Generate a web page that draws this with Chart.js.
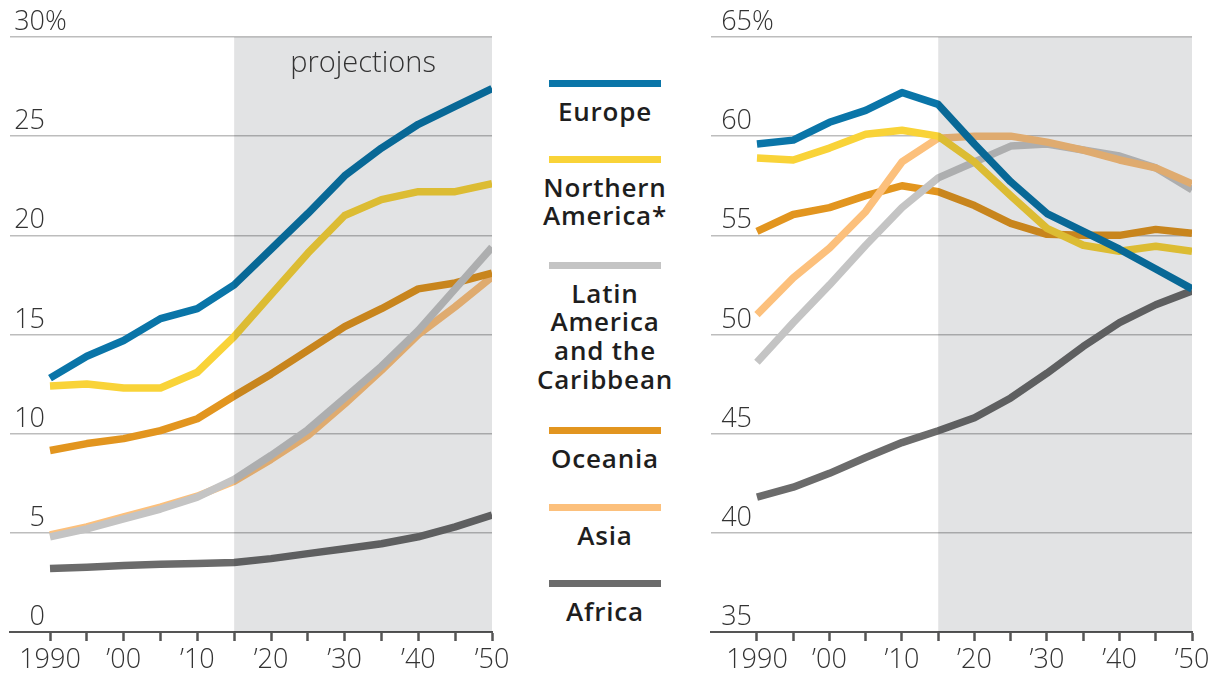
<!DOCTYPE html>
<html>
<head>
<meta charset="utf-8">
<script src="https://cdn.jsdelivr.net/npm/chart.js@4.4.1/dist/chart.umd.min.js"></script>
<style>
    html, body { margin: 0; padding: 0; background: #fff; overflow: hidden; }
    #wrap { position: relative; width: 1217px; height: 675px; }
    #leftBox { position: absolute; left: 0; top: 0; }
    #rightBox { position: absolute; left: 690px; top: 0; }
    #legend {
        position: absolute; left: 530px; top: 0; width: 150px; z-index: 2;
        text-align: center; color: #1e1e1e;
        font: 600 26px 'Open Sans', sans-serif; letter-spacing: 0.8px; line-height: 28.7px;
    }
    .item { position: absolute; left: 0; width: 150px; }
    .swatch { width: 112px; height: 7px; margin: 0 auto 10px; }
</style>
</head>
<body>
<div id="wrap">
    <div id="leftBox"><canvas id="leftChart" width="530" height="675"></canvas></div>
    <div id="rightBox"><canvas id="rightChart" width="527" height="675"></canvas></div>
    <div id="legend"></div>
</div>
<script>
// Données
const years = [1990, 1995, 2000, 2005, 2010, 2015, 2020, 2025, 2030, 2035, 2040, 2045, 2050];
const yearLabels = ['1990', '', '\u201900', '', '\u201910', '', '\u201920', '', '\u201930', '', '\u201940', '', '\u201950'];
const projectionStart = 2015;

const regions = ['Europe', 'Northern America*', 'Latin America and the Caribbean', 'Oceania', 'Asia', 'Africa'];
const legendLines = [['Europe'], ['Northern', 'America*'], ['Latin', 'America', 'and the', 'Caribbean'], ['Oceania'], ['Asia'], ['Africa']];
const regionColors = ['#0a75a8', '#f9d338', '#c4c4c4', '#e2951f', '#fcc07c', '#6b6b6b'];

// Graphique de gauche
const leftTicks = [0, 5, 10, 15, 20, 25, 30];
const europeLeft  = [12.8, 13.9, 14.7, 15.8, 16.3, 17.5, 19.3, 21.1, 23.0, 24.4, 25.6, 26.5, 27.4];
const northAmLeft = [12.4, 12.5, 12.3, 12.3, 13.1, 14.9, 17.0, 19.1, 21.0, 21.8, 22.2, 22.2, 22.6];
const latinLeft   = [4.8, 5.2, 5.7, 6.2, 6.8, 7.7, 8.9, 10.2, 11.8, 13.4, 15.2, 17.3, 19.4];
const oceaniaLeft = [9.15, 9.5, 9.75, 10.15, 10.75, 11.9, 13.0, 14.2, 15.4, 16.3, 17.3, 17.6, 18.1];
const asiaLeft    = [4.9, 5.3, 5.8, 6.3, 6.85, 7.6, 8.7, 9.9, 11.5, 13.2, 15.0, 16.4, 17.9];
const africaLeft  = [3.2, 3.27, 3.35, 3.42, 3.45, 3.5, 3.7, 3.95, 4.2, 4.45, 4.8, 5.3, 5.9];

// Graphique de droite
const rightTicks = [35, 40, 45, 50, 55, 60, 65];
const europeRight  = [59.6, 59.8, 60.7, 61.3, 62.2, 61.6, 59.6, 57.7, 56.1, 55.2, 54.3, 53.3, 52.3];
const northAmRight = [58.9, 58.8, 59.4, 60.1, 60.3, 60.0, 58.7, 57.0, 55.35, 54.5, 54.2, 54.45, 54.2];
const latinRight   = [48.6, 50.6, 52.5, 54.5, 56.4, 57.9, 58.7, 59.5, 59.6, 59.3, 59.0, 58.4, 57.3];
const oceaniaRight = [55.2, 56.05, 56.4, 57.0, 57.5, 57.2, 56.5, 55.6, 55.05, 55.0, 55.0, 55.3, 55.1];
const asiaRight    = [51.0, 52.85, 54.35, 56.2, 58.7, 59.9, 60.0, 60.0, 59.7, 59.3, 58.8, 58.4, 57.6];
const africaRight  = [41.8, 42.3, 43.0, 43.8, 44.55, 45.15, 45.8, 46.8, 48.05, 49.4, 50.6, 51.5, 52.2];

// Mise en page de la légende (haut de chaque trait)
const legendTops = [79.5, 155.5, 261.5, 426.5, 503.5, 579.5];

const axisFont = { family: "'Open Sans', sans-serif", size: 27, weight: 300 };
const textColor = '#333';

// Zone grisée des projections, étiquettes de l'axe Y
const shadePlugin = {
    id: 'shade',
    afterDatasetsDraw(chart, args, opts) {
        const { ctx, chartArea, scales } = chart;
        const x0 = scales.x.getPixelForValue(projectionStart);
        const x1 = scales.x.getPixelForValue(years[years.length - 1]);
        ctx.save();
        ctx.fillStyle = 'rgba(0,5,20,0.115)';
        ctx.fillRect(x0, chartArea.top, x1 - x0, chartArea.bottom - chartArea.top);

        ctx.fillStyle = textColor;
        if (opts.label) {
            ctx.font = '300 29px "Open Sans", sans-serif';
            ctx.textAlign = 'center';
            ctx.textBaseline = 'alphabetic';
            ctx.fillText(opts.label, (x0 + x1) / 2, chartArea.top + 35);
        }

        // étiquettes Y alignées à droite, au-dessus des lignes
        const y = scales.y;
        ctx.font = '300 27px "Open Sans", sans-serif';
        ctx.textBaseline = 'alphabetic';
        const xr = chartArea.left + opts.labelRight;
        y.ticks.forEach((t, i) => {
            const py = y.getPixelForValue(t.value) - 7;
            ctx.textAlign = 'right';
            ctx.fillText(String(t.value), xr, py);
            if (i === y.ticks.length - 1) {
                ctx.textAlign = 'left';
                ctx.fillText('%', xr, py);
            }
        });
        ctx.restore();
    }
};

function buildChart(canvasId, series, opts) {
    return new Chart(document.getElementById(canvasId), {
        type: 'line',
        data: {
            datasets: regions.map((name, i) => ({
                label: name,
                data: years.map((yr, j) => ({ x: yr, y: series[i][j] })),
                borderColor: regionColors[i],
                borderWidth: 7.5,
                pointRadius: 0,
                tension: 0,
                borderJoinStyle: 'round',
                order: opts.order[i]
            }))
        },
        options: {
            responsive: false,
            animation: false,
            layout: { padding: { left: opts.padLeft, right: opts.padRight, top: 37, bottom: 0 } },
            plugins: {
                legend: { display: false },
                tooltip: { enabled: false },
                shade: { label: opts.label, labelRight: opts.labelRight }
            },
            scales: {
                x: {
                    type: 'linear',
                    min: opts.xMin,
                    max: years[years.length - 1],
                    afterBuildTicks: s => { s.ticks = years.map(v => ({ value: v })); },
                    afterFit: s => { s.height = 43; },
                    ticks: {
                        autoSkip: false,
                        maxRotation: 0,
                        padding: 3,
                        font: axisFont,
                        color: textColor,
                        callback: (v, i) => yearLabels[i]
                    },
                    grid: { drawOnChartArea: false, drawTicks: true, tickLength: 9, tickWidth: 2.5, tickColor: '#555' },
                    border: { display: true, color: '#555', width: 2 }
                },
                y: {
                    min: opts.yTicks[0],
                    max: opts.yTicks[opts.yTicks.length - 1],
                    afterBuildTicks: s => { s.ticks = opts.yTicks.map(v => ({ value: v })); },
                    afterFit: s => { s.width = 0; },
                    ticks: { display: false },
                    grid: { color: '#bdbdbd', lineWidth: 1.5, drawTicks: false },
                    border: { display: false }
                }
            }
        },
        plugins: [shadePlugin]
    });
}

// Légende centrale
const legend = document.getElementById('legend');
legend.innerHTML = regions.map((name, i) => `
    <div class="item" style="top:${legendTops[i]}px">
        <div class="swatch" style="background:${regionColors[i]}"></div>
        <div class="text">${legendLines[i].join('<br>')}</div>
    </div>
`).join('');

buildChart('leftChart',
    [europeLeft, northAmLeft, latinLeft, oceaniaLeft, asiaLeft, africaLeft],
    { padLeft: 10, padRight: 38, xMin: 1984.57, yTicks: leftTicks, labelRight: 35, label: 'projections', order: [0, 1, 2, 3, 4, 5] });

buildChart('rightChart',
    [europeRight, northAmRight, latinRight, oceaniaRight, asiaRight, africaRight],
    { padLeft: 21, padRight: 25, xMin: 1983.66, yTicks: rightTicks, labelRight: 41, label: '', order: [0, 1, 3, 4, 2, 5] });
</script>
</body>
</html>
